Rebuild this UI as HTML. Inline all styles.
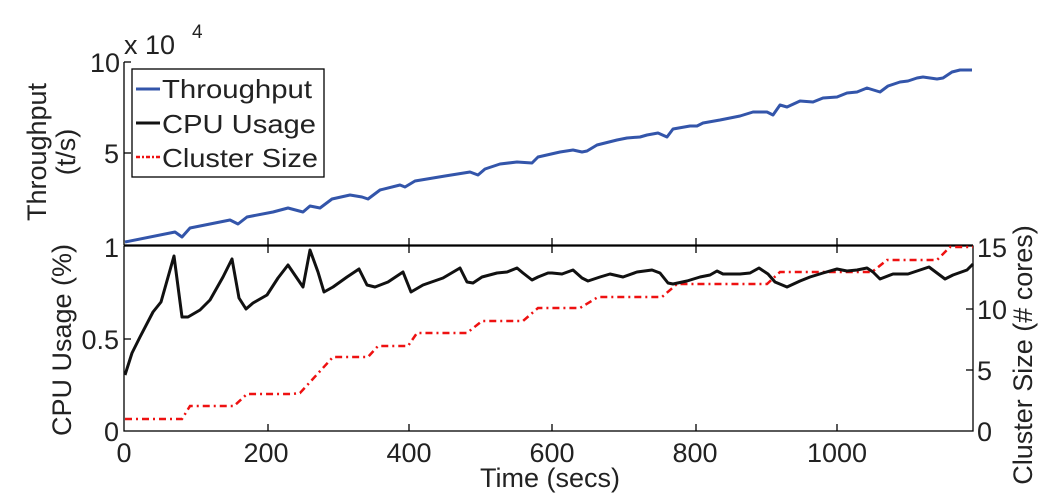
<!DOCTYPE html>
<html><head><meta charset="utf-8"><style>
html,body{margin:0;padding:0;background:#fff;}
svg{display:block;font-family:"Liberation Sans",Arial,sans-serif;}
</style></head><body>
<svg width="1051" height="497" viewBox="0 0 1051 497" xmlns="http://www.w3.org/2000/svg">
<rect width="1051" height="497" fill="#fff"/>
<g stroke="#000" stroke-width="1.3" fill="none">
<line x1="124" y1="62" x2="124" y2="245"/>
<line x1="124" y1="245" x2="973" y2="245"/>
<line x1="124" y1="62" x2="131" y2="62"/>
<line x1="124" y1="153" x2="131" y2="153"/>
<line x1="268" y1="245" x2="268" y2="238"/>
<line x1="409" y1="245" x2="409" y2="238"/>
<line x1="552" y1="245" x2="552" y2="238"/>
<line x1="696" y1="245" x2="696" y2="238"/>
<line x1="837" y1="245" x2="837" y2="238"/>
<rect x="124" y="246" width="849" height="185"/>
<line x1="268" y1="431" x2="268" y2="424"/>
<line x1="409" y1="431" x2="409" y2="424"/>
<line x1="552" y1="431" x2="552" y2="424"/>
<line x1="696" y1="431" x2="696" y2="424"/>
<line x1="837" y1="431" x2="837" y2="424"/>
<line x1="268" y1="246" x2="268" y2="253"/>
<line x1="409" y1="246" x2="409" y2="253"/>
<line x1="552" y1="246" x2="552" y2="253"/>
<line x1="696" y1="246" x2="696" y2="253"/>
<line x1="837" y1="246" x2="837" y2="253"/>
<line x1="124" y1="339" x2="131" y2="339"/>
<line x1="973" y1="309" x2="966" y2="309"/>
<line x1="973" y1="370" x2="966" y2="370"/>
</g>
<polyline fill="none" stroke="#3355aa" stroke-width="3" stroke-linejoin="round" points="125,242 175,232 182,237 190,228 230,220 238,224 247,217 273,212 288,208 303,212 310,206 320,208 332,199 350,195 362,197 368,199 380,190 400,185 405,187 415,181 445,176 470,172 478,175 485,169 500,164 517,162 532,163 538,157 560,152 573,150 582,152 587,151 597,145 617,140 627,138 640,137 647,135 658,133 667,137 673,129 690,126 697,126 703,123 720,120 730,118 740,116 753,112 767,112 773,115 780,105 787,107 800,101 813,102 823,98 837,97 847,93 857,92 867,88 880,92 888,86 900,82 908,81 917,78 923,77 937,79 943,78 952,72 960,70 972,70"/>
<polyline fill="none" stroke="#ee1111" stroke-width="2.5" stroke-dasharray="7,4,2,4" points="125,419 182,419 190,406 234,406 247,394 292,394 300,393 333,357 368,357 378,346 408,346 417,333 467,333 482,321 523,321 538,308 580,308 598,297 662,297 677,284 767,284 780,272 872,272 887,260 937,260 950,247 973,247"/>
<polyline fill="none" stroke="#111" stroke-width="3" stroke-linejoin="round" points="125,375 132,353 140,337 153,312 161,302 174,256 182,317 188,317 200,310 210,300 223,277 232,259 239,298 246,309 253,303 267,295 278,278 288,265 303,287 310,250 318,272 324,292 333,287 347,277 359,269 367,285 375,287 388,282 403,272 411,292 423,285 443,278 460,268 467,282 473,283 482,277 497,273 507,272 517,268 523,273 532,280 538,277 548,273 552,273 562,274 573,270 582,278 588,281 600,277 610,274 623,277 637,272 652,270 660,273 668,283 673,284 687,281 700,277 710,275 717,271 723,274 740,274 750,273 759,268 768,274 775,282 787,287 800,281 810,277 823,273 837,269 847,271 857,270 867,268 873,272 880,279 893,274 908,274 920,270 929,267 937,273 945,279 953,275 967,270 973,264"/>
<rect x="132" y="69" width="192" height="108" fill="#fff" stroke="#000" stroke-width="1.3"/>
<line x1="136" y1="89" x2="160" y2="89" stroke="#3355aa" stroke-width="3"/>
<line x1="136" y1="123" x2="160" y2="123" stroke="#111" stroke-width="3"/>
<line x1="136" y1="157" x2="160" y2="157" stroke="#ee1111" stroke-width="2.5" stroke-dasharray="4,2,2,2"/>
<g font-size="26" fill="#222">
<text x="162" y="98" textLength="150" lengthAdjust="spacingAndGlyphs">Throughput</text>
<text x="162" y="133" textLength="154" lengthAdjust="spacingAndGlyphs">CPU Usage</text>
<text x="162" y="167" textLength="156" lengthAdjust="spacingAndGlyphs">Cluster Size</text>
</g>
<g font-size="27" fill="#222">
<text x="120" y="72" text-anchor="end">10</text>
<text x="119" y="163" text-anchor="end">5</text>
<text x="124" y="54">x 10</text>
<text x="192" y="38" font-size="19">4</text>
<text x="119" y="257" text-anchor="end">1</text>
<text x="119" y="349" text-anchor="end">0.5</text>
<text x="119" y="441" text-anchor="end">0</text>
<text x="977" y="257">15</text>
<text x="977" y="319">10</text>
<text x="977" y="380">5</text>
<text x="977" y="441">0</text>
<text x="124" y="462" text-anchor="middle">0</text>
<text x="266" y="462" text-anchor="middle">200</text>
<text x="409" y="462" text-anchor="middle">400</text>
<text x="552" y="462" text-anchor="middle">600</text>
<text x="695" y="462" text-anchor="middle">800</text>
<text x="837" y="462" text-anchor="middle">1000</text>
<text x="550" y="487" text-anchor="middle">Time (secs)</text>
<text transform="translate(46,152) rotate(-90)" text-anchor="middle">Throughput</text>
<text transform="translate(75,152) rotate(-90)" text-anchor="middle">(t/s)</text>
<text transform="translate(71,340) rotate(-90)" text-anchor="middle">CPU Usage (%)</text>
<text transform="translate(1032,355) rotate(-90)" text-anchor="middle">Cluster Size (# cores)</text>
</g>
</svg>
</body></html>
